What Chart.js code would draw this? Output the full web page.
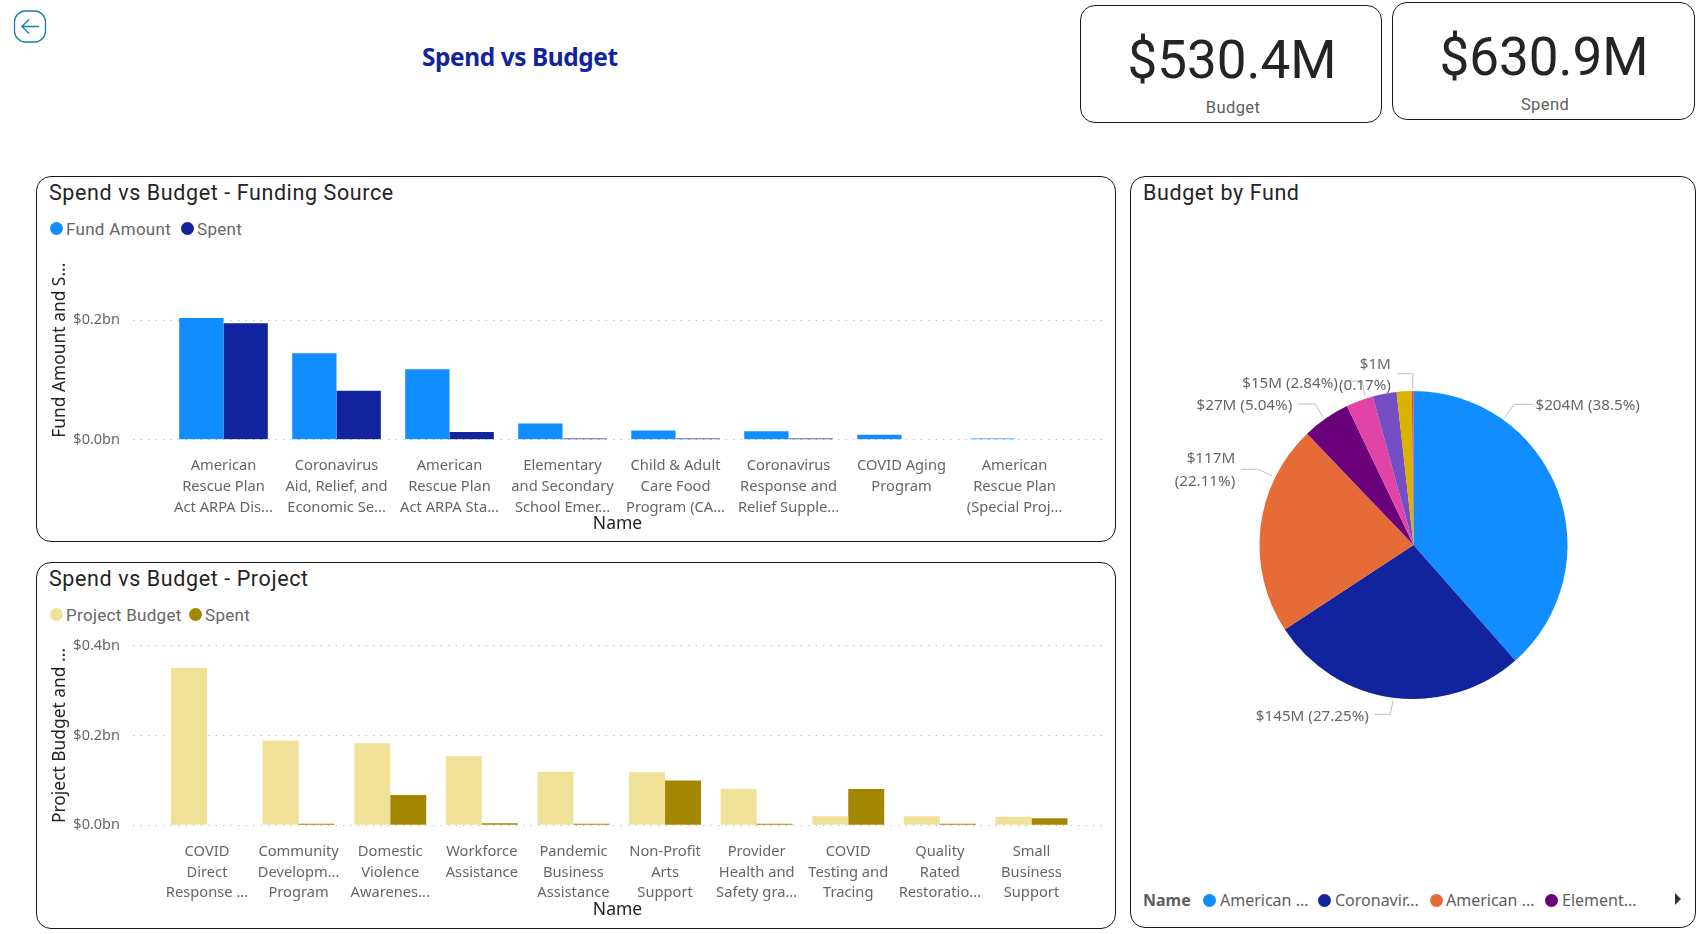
<!DOCTYPE html>
<html lang="en">
<head>
<meta charset="UTF-8">
<title>Spend vs Budget</title>
<script src="https://cdn.jsdelivr.net/npm/chart.js"></script>
<style>
  html, body { margin: 0; padding: 0; background: #fff; }
  body { width: 1696px; height: 934px; position: relative; overflow: hidden; font-family: "Noto Sans", sans-serif; }
  .box { position: absolute; box-sizing: border-box; border: 1.5px solid #1a1a1a; border-radius: 15px; background: #fff; }
  .abs { position: absolute; white-space: nowrap; }
  .page-title { left: 422px; top: 40px; font: bold 24.4px/34px "Noto Sans", sans-serif; letter-spacing: -0.4px; color: #12239e; }
  .panel-title { font: 21.5px/26px Roboto, sans-serif; letter-spacing: 0.6px; color: #252423; }
  .legend { font: 17px/22px Roboto, sans-serif; letter-spacing: 0.3px; color: #666; }
  .dot { position: absolute; width: 13px; height: 13px; border-radius: 50%; }
  .kpi-value { font: 53px/60px Roboto, sans-serif; color: #252423; transform: translateX(-50%); }
  .kpi-label { font: 16.5px/20px Roboto, sans-serif; letter-spacing: 0.4px; color: #605e5c; transform: translateX(-50%); }
  .pie-legend { font: 16px/20px "Noto Sans", sans-serif; color: #605e5c; }
  canvas { position: absolute; }
</style>
</head>
<body>

<!-- back button -->
<svg class="abs" style="left:13px;top:10px" width="35" height="33" viewBox="0 0 35 33">
  <rect x="1.5" y="1" width="31" height="31" rx="11" fill="none" stroke="#1a7fa8" stroke-width="1.3"/>
  <path d="M26 16.5H9.5M16 9.5l-7 7 7 7" fill="none" stroke="#1a7fa8" stroke-width="1.4"/>
</svg>
<div class="abs page-title">Spend vs Budget</div>

<!-- kpi cards -->
<div class="box" style="left:1080px;top:5px;width:302px;height:118px"></div>
<div class="abs kpi-value" style="left:1232px;top:30px">$530.4M</div>
<div class="abs kpi-label" style="left:1233px;top:98px">Budget</div>
<div class="box" style="left:1392px;top:2px;width:303px;height:118px"></div>
<div class="abs kpi-value" style="left:1544px;top:27px">$630.9M</div>
<div class="abs kpi-label" style="left:1545px;top:95px">Spend</div>

<!-- panels -->
<div class="box" style="left:36px;top:176px;width:1080px;height:366px"></div>
<div class="box" style="left:36px;top:562px;width:1080px;height:367px"></div>
<div class="box" style="left:1130px;top:176px;width:566px;height:752px"></div>

<div class="abs panel-title" style="left:49px;top:180px">Spend vs Budget - Funding Source</div>
<div class="dot" style="left:50px;top:222px;background:#118dff"></div>
<div class="abs legend" style="left:66px;top:218px">Fund Amount</div>
<div class="dot" style="left:181px;top:222px;background:#12239e"></div>
<div class="abs legend" style="left:197px;top:218px">Spent</div>

<div class="abs panel-title" style="left:49px;top:566px">Spend vs Budget - Project</div>
<div class="dot" style="left:50px;top:608px;background:#f0e199"></div>
<div class="abs legend" style="left:66px;top:604px">Project Budget</div>
<div class="dot" style="left:189px;top:608px;background:#a38700"></div>
<div class="abs legend" style="left:205px;top:604px">Spent</div>

<div class="abs panel-title" style="left:1143px;top:180px">Budget by Fund</div>

<canvas id="fundChart" style="left:40px;top:239px" width="1072" height="298"></canvas>
<canvas id="projectChart" style="left:40px;top:621px" width="1072" height="302"></canvas>
<canvas id="pieChart" style="left:1135px;top:345px" width="557" height="400"></canvas>

<!-- pie legend -->
<div class="abs pie-legend" style="left:1143px;top:890px;font-weight:bold">Name</div>
<div class="dot" style="left:1203px;top:894px;background:#118dff"></div>
<div class="abs pie-legend" style="left:1220px;top:890px">American ...</div>
<div class="dot" style="left:1318px;top:894px;background:#12239e"></div>
<div class="abs pie-legend" style="left:1335px;top:890px">Coronavir...</div>
<div class="dot" style="left:1430px;top:894px;background:#e66c37"></div>
<div class="abs pie-legend" style="left:1446px;top:890px">American ...</div>
<div class="dot" style="left:1545px;top:894px;background:#6b007b"></div>
<div class="abs pie-legend" style="left:1562px;top:890px">Element...</div>
<svg class="abs" style="left:1674px;top:892px" width="8" height="14"><path d="M1 1l6 6-6 6z" fill="#333"/></svg>

<script>
// funding source chart
const fundNames = [
  ["American", "Rescue Plan", "Act ARPA Dis..."],
  ["Coronavirus", "Aid, Relief, and", "Economic Se..."],
  ["American", "Rescue Plan", "Act ARPA Sta..."],
  ["Elementary", "and Secondary", "School Emer..."],
  ["Child & Adult", "Care Food", "Program (CA..."],
  ["Coronavirus", "Response and", "Relief Supple..."],
  ["COVID Aging", "Program"],
  ["American", "Rescue Plan", "(Special Proj..."]
];
const fundAmount = [0.204, 0.145, 0.118, 0.027, 0.0155, 0.014, 0.0085, 0.002];
const fundSpent = [0.195, 0.082, 0.0128, 0.0022, 0.0022, 0.0022, 0, 0];

// project chart
const projectNames = [
  ["COVID", "Direct", "Response ..."],
  ["Community", "Developm...", "Program"],
  ["Domestic", "Violence", "Awarenes..."],
  ["Workforce", "Assistance"],
  ["Pandemic", "Business", "Assistance"],
  ["Non-Profit", "Arts", "Support"],
  ["Provider", "Health and", "Safety gra..."],
  ["COVID", "Testing and", "Tracing"],
  ["Quality", "Rated", "Restoratio..."],
  ["Small", "Business", "Support"]
];
const projectBudget = [0.351, 0.189, 0.183, 0.154, 0.119, 0.118, 0.081, 0.02, 0.02, 0.019];
const projectSpent = [0, 0.0037, 0.0675, 0.0045, 0.0037, 0.1, 0.0037, 0.081, 0.0037, 0.0157];

// pie chart, in $M
const pieValues = [204.2, 144.5, 117.3, 26.7, 15.1, 13.3, 8.4, 0.9];
const pieColors = ["#118dff", "#12239e", "#e66c37", "#6b007b", "#e044a7", "#744ec2", "#d9b300", "#d64550"];

// leader lines, relative to the pie centre (violet and gold slices have no label)
const pieCallouts = [
  { slice: 0, angle: 35.6, elbow: [100.7, -140.7], end: 119.7, textX: 122, textY: [-139.4], align: "left", lines: ["$204M (38.5%)"] },
  { slice: 1, angle: 187.5, elbow: [-23.3, 169.3], end: -39, textX: -44.6, textY: [171.7], align: "right", lines: ["$145M (27.25%)"] },
  { slice: 2, angle: 296, elbow: [-155, -75.7], end: -172, textX: -178.3, textY: [-86, -63], align: "right", lines: ["$117M", "(22.11%)"] },
  { slice: 3, angle: 324.7, elbow: [-98.3, -141], end: -115.3, textX: -121.3, textY: [-139], align: "right", lines: ["$27M (5.04%)"] },
  { slice: 4, angle: 341.9, elbow: [-51.3, -164], end: -68.3, textX: -75.6, textY: [-161.3], align: "right", lines: ["$15M (2.84%)"] },
  { slice: 7, angle: 359.7, elbow: [-0.6, -171.3], end: -16.6, textX: -22.6, textY: [-180, -159], align: "right", lines: ["$1M", "(0.17%)"] }
];

const tickFont = { family: "'Noto Sans', sans-serif", size: 14.7, lineHeight: 1.41 };

function barChart(id, names, series, yMax, xMin, xMax, fraction, xHeight, topPad) {
  return new Chart(document.getElementById(id), {
    type: "bar",
    data: {
      datasets: series.map(s => ({
        label: s.label,
        data: s.values.map((v, i) => ({ x: i, y: v })),
        backgroundColor: s.color,
        borderWidth: 0,
        categoryPercentage: fraction,
        barPercentage: 1
      }))
    },
    options: {
      responsive: false,
      animation: false,
      layout: { padding: { top: topPad, right: 10 } },
      plugins: { legend: { display: false }, tooltip: { enabled: false } },
      scales: {
        x: {
          type: "linear",
          min: xMin,
          max: xMax,
          offset: false,
          grid: { display: false, offset: false },
          border: { display: false },
          afterFit: s => { s.height = xHeight; },
          ticks: {
            stepSize: 1,
            includeBounds: false,
            autoSkip: false,
            maxRotation: 0,
            minRotation: 0,
            padding: 8,
            color: "#666",
            font: tickFont,
            callback: v => names[v]
          },
          title: {
            display: true,
            text: "Name",
            color: "#252423",
            font: { family: "'Noto Sans', sans-serif", size: 17.5 },
            padding: { top: 0, bottom: 2 }
          }
        },
        y: {
          min: 0,
          max: yMax,
          grid: { color: "#c4c4c4", drawTicks: false, lineWidth: 1 },
          border: { display: false, dash: [1.5, 6] },
          afterFit: s => { s.width = 93; },
          ticks: {
            stepSize: 0.2,
            includeBounds: false,
            padding: 13,
            color: "#666",
            font: { family: "'Noto Sans', sans-serif", size: 14.5 },
            callback: v => "$" + v.toFixed(1) + "bn"
          },
          title: {
            display: true,
            text: series[0].axisTitle,
            color: "#252423",
            font: { family: "'Noto Sans', sans-serif", size: 17.4 },
            padding: { top: 10, bottom: 0 }
          }
        }
      }
    }
  });
}

barChart("fundChart", fundNames, [
  { label: "Fund Amount", values: fundAmount, color: "#118dff", axisTitle: "Fund Amount and S..." },
  { label: "Spent", values: fundSpent, color: "#12239e" }
], 0.3, -0.801, 7.774, 0.784, 97.3, 0);

barChart("projectChart", projectNames, [
  { label: "Project Budget", values: projectBudget, color: "#f0e199", axisTitle: "Project Budget and ..." },
  { label: "Spent", values: projectSpent, color: "#a38700" }
], 0.4, -0.808, 9.77, 0.786, 97.7, 24.7);

// callouts with elbow lines, like the ones on the original pie
const pieLabelPlugin = {
  id: "pieLabels",
  afterDatasetsDraw(chart) {
    const ctx = chart.ctx;
    const first = chart.getDatasetMeta(0).data[0];
    const cx = first.x, cy = first.y, r = first.outerRadius + 3;
    ctx.save();
    ctx.font = "15.2px 'Noto Sans', sans-serif";
    pieCallouts.forEach(c => {
      const a = c.angle * Math.PI / 180;
      ctx.strokeStyle = "#bdbdbd";
      ctx.lineWidth = 1;
      ctx.beginPath();
      ctx.moveTo(cx + r * Math.sin(a), cy - r * Math.cos(a));
      ctx.lineTo(cx + c.elbow[0], cy + c.elbow[1]);
      ctx.lineTo(cx + c.end, cy + c.elbow[1]);
      ctx.stroke();
      ctx.fillStyle = "#666";
      ctx.textAlign = c.align;
      ctx.textBaseline = "middle";
      c.lines.forEach((line, i) => ctx.fillText(line, cx + c.textX, cy + c.textY[i]));
    });
    ctx.restore();
  }
};

new Chart(document.getElementById("pieChart"), {
  type: "pie",
  data: {
    labels: fundNames.map(n => n.join(" ")),
    datasets: [{ data: pieValues, backgroundColor: pieColors, borderWidth: 0 }]
  },
  options: {
    responsive: false,
    animation: false,
    layout: { padding: 46 },
    plugins: { legend: { display: false }, tooltip: { enabled: false } }
  },
  plugins: [pieLabelPlugin]
});
</script>
</body>
</html>
